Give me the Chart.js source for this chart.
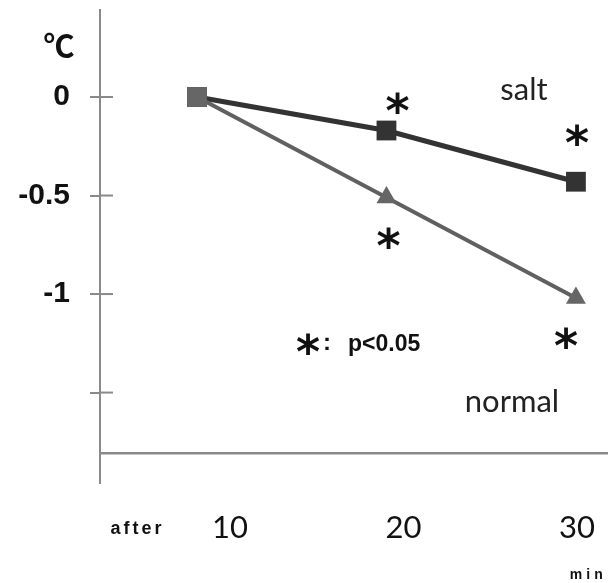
<!DOCTYPE html>
<html><head><meta charset="utf-8">
<script src="https://cdn.jsdelivr.net/npm/chart.js@4/dist/chart.umd.min.js"></script>
<style>html,body{margin:0;padding:0;background:#fff}</style>
</head><body>
<canvas id="c" width="611" height="583"></canvas>
<script>
// ---- data ----
const minutes = [10, 20, 30];
const saltValues = [0, -0.17, -0.43];
const normalValues = [0, -0.51, -1.02];
const saltSignificant = [false, true, true];
const normalSignificant = [false, true, true];
const yTickValues = [0, -0.5, -1, -1.5];
const yTickLabels = ['0', '-0.5', '-1', ''];
const xTickLabels = ['10', '20', '30'];
const seriesNames = ['salt', 'normal'];
const unitY = '℃';
const unitXBefore = 'after';
const unitXAfter = 'min';
const sigNote = 'p<0.05';

const AXIS = '#8a8a8a';

function inkText(ctx, txt, cx, cy) {
  // draw text so that its ink box is centred on (cx, cy)
  ctx.textAlign = 'left'; ctx.textBaseline = 'alphabetic';
  const m = ctx.measureText(txt);
  const w = m.actualBoundingBoxLeft + m.actualBoundingBoxRight;
  const h = m.actualBoundingBoxAscent + m.actualBoundingBoxDescent;
  const x = cx - w / 2 + m.actualBoundingBoxLeft;
  const y = cy - h / 2 + m.actualBoundingBoxAscent;
  ctx.fillText(txt, x, y);
}

const annot = {
  id: 'annot',
  beforeDatasetsDraw(chart) {
    const ctx = chart.ctx, y = chart.scales.y, a = chart.chartArea;
    ctx.save();
    ctx.strokeStyle = AXIS; ctx.lineWidth = 2;
    yTickValues.forEach(v => {
      const py = y.getPixelForValue(v);
      ctx.beginPath(); ctx.moveTo(a.left, py); ctx.lineTo(a.left + 13, py); ctx.stroke();
    });
    ctx.restore();
  },
  afterDraw(chart) {
    const ctx = chart.ctx, x = chart.scales.x, y = chart.scales.y;
    ctx.save();
    ctx.fillStyle = '#111';
    // unit of y
    ctx.font = 'bold 31px "Noto Sans CJK JP"';
    inkText(ctx, unitY, 59, 45);
    // series names
    ctx.fillStyle = '#222';
    ctx.font = '31px Lato';
    ctx.textAlign = 'center'; ctx.textBaseline = 'alphabetic';
    ctx.fillText(seriesNames[0], 524, 100);
    ctx.fillText(seriesNames[1], 512, 412);
    // x units
    ctx.fillStyle = '#111';
    ctx.letterSpacing = '3px';
    ctx.font = 'bold 18px "Liberation Sans"';
    inkText(ctx, unitXBefore, 136, 527);
    ctx.letterSpacing = '4px';
    ctx.font = 'bold 14px "Liberation Sans"';
    inkText(ctx, unitXAfter, 586, 573);
    ctx.letterSpacing = '0px';
    // significance asterisks
    ctx.font = 'bold 46px "DejaVu Sans"';
    const sOff = [[0, 0], [11, -28], [1, -47]];
    const nOff = [[0, 0], [2, 41], [-10, 40]];
    minutes.forEach((m, i) => {
      if (saltSignificant[i]) inkText(ctx, '*', x.getPixelForValue(m) + sOff[i][0], y.getPixelForValue(saltValues[i]) + sOff[i][1]);
      if (normalSignificant[i]) inkText(ctx, '*', x.getPixelForValue(m) + nOff[i][0], y.getPixelForValue(normalValues[i]) + nOff[i][1]);
    });
    // legend note
    inkText(ctx, '*', 308, 344);
    ctx.font = 'bold 24px "Liberation Sans"';
    inkText(ctx, ':', 327, 343);
    ctx.font = 'bold 23px "Liberation Sans"';
    ctx.textAlign = 'left'; ctx.textBaseline = 'alphabetic';
    ctx.fillText(sigNote, 348, 351);
    ctx.restore();
  }
};

new Chart(document.getElementById('c'), {
  type: 'line',
  data: {
    datasets: [
      {
        label: seriesNames[1],
        data: minutes.map((m, i) => ({ x: m, y: normalValues[i] })),
        borderColor: '#606060', backgroundColor: '#666666',
        borderWidth: 4, pointStyle: ['rect', 'triangle', 'triangle'],
        pointRadius: [14, 11.5, 11.5], pointBorderWidth: 0, order: 0
      },
      {
        label: seriesNames[0],
        data: minutes.map((m, i) => ({ x: m, y: saltValues[i] })),
        borderColor: '#333333', backgroundColor: '#333333',
        borderWidth: 5, pointStyle: 'rect',
        pointRadius: 14, pointBorderWidth: 0, order: 1
      }
    ]
  },
  options: {
    responsive: false, animation: false, devicePixelRatio: 1,
    layout: { autoPadding: false, padding: { top: 10, right: 4, bottom: 0, left: 0 } },
    plugins: { legend: { display: false }, tooltip: { enabled: false } },
    scales: {
      x: {
        type: 'linear', min: 4.88, max: 31.64, position: { y: -1.807 },
        grid: { display: false }, ticks: { display: false },
        border: { color: AXIS, width: 2.5 },
        afterFit: s => { s.paddingLeft = 0; s.paddingRight = 0; }
      },
      xl: {
        type: 'linear', axis: 'x', position: 'bottom', min: 2.51, max: 31.73,
        grid: { display: false, drawTicks: false }, border: { display: false },
        afterBuildTicks: s => { s.ticks = minutes.map(v => ({ value: v })); },
        ticks: { callback: (v, i) => xTickLabels[i], font: { family: 'Lato', size: 31 }, color: '#111', padding: 26, maxRotation: 0, autoSkip: false },
        afterFit: s => { s.height = 100; s.paddingLeft = 0; s.paddingRight = 0; }
      },
      y: {
        type: 'linear', min: -1.959, max: 0.4416, position: 'left',
        afterBuildTicks: s => { s.ticks = yTickValues.map(v => ({ value: v })); },
        afterFit: s => { s.width = 100; s.paddingTop = 0; s.paddingBottom = 0; },
        ticks: { callback: (v, i) => yTickLabels[i], font: { family: 'Liberation Sans', size: 30, weight: 'bold' }, color: '#111', padding: 20, autoSkip: false },
        grid: { drawOnChartArea: false, tickLength: 10, color: AXIS, lineWidth: 2 },
        border: { color: AXIS, width: 2 }
      }
    }
  },
  plugins: [annot]
});
</script>
</body></html>
